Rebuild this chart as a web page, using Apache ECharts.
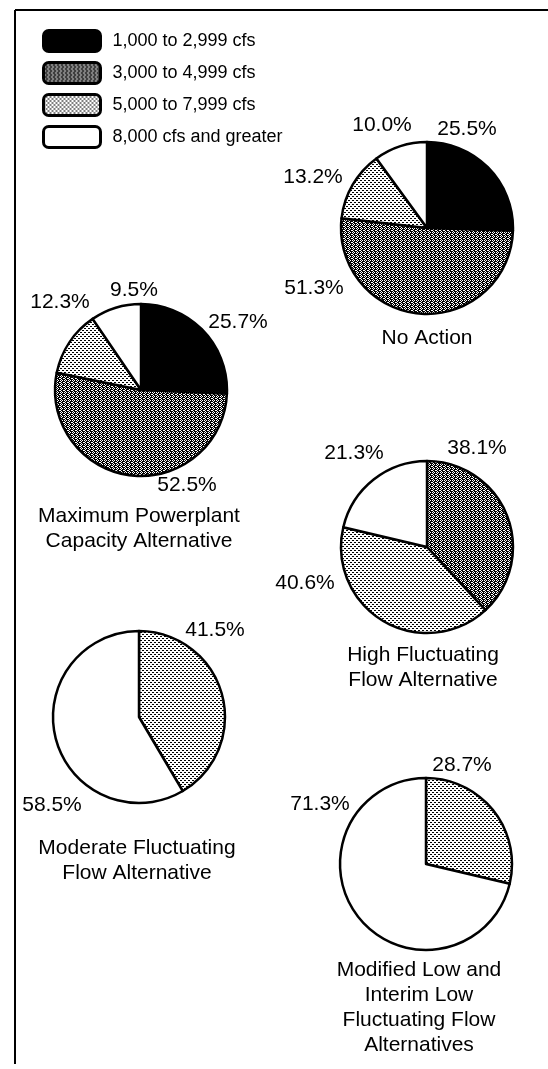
<!DOCTYPE html>
<html>
<head>
<meta charset="utf-8">
<script src="https://cdn.jsdelivr.net/npm/echarts@6/dist/echarts.min.js"></script>
<style>
html,body{margin:0;padding:0;background:#fff;}
#chart{width:548px;height:1069px;}
</style>
</head>
<body>
<div id="chart"></div>
<script>
// ---- data ----
const categories = ['1,000 to 2,999 cfs', '3,000 to 4,999 cfs', '5,000 to 7,999 cfs', '8,000 cfs and greater'];
const alternatives = ['No Action', 'Maximum Powerplant\nCapacity Alternative', 'High Fluctuating\nFlow Alternative', 'Moderate Fluctuating\nFlow Alternative', 'Modified Low and\nInterim Low\nFluctuating Flow\nAlternatives'];
const noAction = [25.5, 51.3, 13.2, 10.0];
const maxPowerplant = [25.7, 52.5, 12.3, 9.5];
const highFluctuating = [0, 38.1, 40.6, 21.3];
const moderateFluctuating = [0, 0, 41.5, 58.5];
const modifiedLow = [0, 0, 28.7, 71.3];
const seriesValues = [noAction, maxPowerplant, highFluctuating, moderateFluctuating, modifiedLow];

// ---- styles / layout ----
function makePattern(kind) {
  const c = document.createElement('canvas');
  c.width = 4; c.height = 4;
  const ctx = c.getContext('2d');
  if (kind === 'dark') {
    ctx.fillStyle = '#000'; ctx.fillRect(0, 0, 4, 4);
    ctx.fillStyle = '#fff';
    [[0,0],[2,0],[1,1],[3,2],[0,2],[1,3]].forEach(p => ctx.fillRect(p[0], p[1], 1, 1));
  } else {
    ctx.fillStyle = '#fff'; ctx.fillRect(0, 0, 4, 4);
    ctx.fillStyle = '#000';
    [[0,0],[1,0],[2,2],[3,2]].forEach(p => ctx.fillRect(p[0], p[1], 1, 1));
  }
  return c;
}
const fills = ['#000', {image: makePattern('dark'), repeat: 'repeat'}, {image: makePattern('light'), repeat: 'repeat'}, '#fff'];

const pieLayout = [
  {center: [427, 228], title: [427, 326], labels: [[40,-99],[-113,60],[-114,-51],[-45,-103]]},
  {center: [141, 390], title: [139, 504], labels: [[97,-68],[46,95],[-81,-88],[-7,-100]]},
  {center: [427, 547], title: [423, 643], labels: [null,[50,-99],[-122,36],[-73,-94]]},
  {center: [139, 717], title: [137, 836], labels: [null,null,[76,-87],[-87,88]]},
  {center: [426, 864], title: [419, 958], labels: [null,null,[36,-99],[-106,-60]]}
];
const R = 86;
const FONT = 'Liberation Sans, Arial, Helvetica, sans-serif';

const series = seriesValues.map((vals, si) => {
  const lay = pieLayout[si];
  const data = [];
  vals.forEach((v, ci) => {
    if (v > 0) data.push({name: categories[ci], value: v, catIndex: ci, itemStyle: {color: fills[ci]}});
  });
  return {
    type: 'pie',
    center: lay.center,
    radius: R,
    startAngle: 90,
    clockwise: true,
    silent: true,
    avoidLabelOverlap: false,
    itemStyle: {borderColor: '#000', borderWidth: 2.5},
    label: {
      show: true, position: 'outside', color: '#000',
      fontFamily: FONT, fontSize: 21,
      formatter: p => p.value.toFixed(1) + '%'
    },
    labelLine: {show: false},
    labelLayout: function (params) {
      const d = data[params.dataIndex];
      const off = lay.labels[d.catIndex];
      return {x: lay.center[0] + off[0], y: lay.center[1] + off[1], align: 'center', verticalAlign: 'middle'};
    },
    data: data
  };
});

const titles = alternatives.map((t, i) => ({
  text: t,
  left: pieLayout[i].title[0],
  top: pieLayout[i].title[1],
  textAlign: 'center',
  padding: 0,
  textStyle: {fontFamily: FONT, fontSize: 21, fontWeight: 'normal', color: '#000', lineHeight: 25}
}));

const chart = echarts.init(document.getElementById('chart'), null, {renderer: 'canvas'});
chart.setOption({
  animation: false,
  backgroundColor: '#fff',
  title: titles,
  legend: {
    orient: 'vertical',
    left: 37,
    top: 24,
    itemWidth: 57,
    itemHeight: 21,
    itemGap: 8,
    icon: 'roundRect',
    selectedMode: false,
    data: categories,
    itemStyle: {borderColor: '#000', borderWidth: 3},
    textStyle: {fontFamily: FONT, fontSize: 18, color: '#000', padding: [0, 0, 0, 7]}
  },
  graphic: [
    {type: 'line', shape: {x1: 15, y1: 10, x2: 548, y2: 10}, style: {stroke: '#000', lineWidth: 2}},
    {type: 'line', shape: {x1: 15, y1: 10, x2: 15, y2: 1064}, style: {stroke: '#000', lineWidth: 2}}
  ],
  series: series
});
</script>
</body>
</html>
